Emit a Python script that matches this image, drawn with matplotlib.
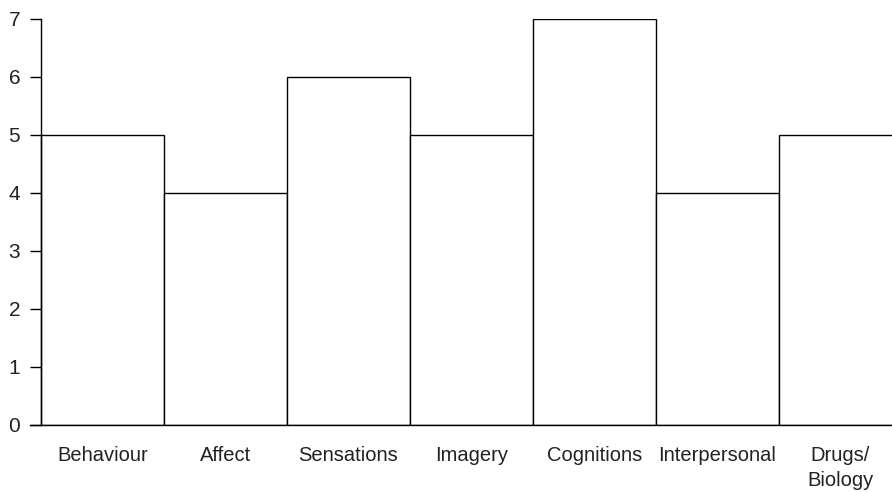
import matplotlib.pyplot as plt
import numpy as np

categories = ["Behaviour", "Affect", "Sensations", "Imagery", "Cognitions",
              "Interpersonal", "Drugs/\nBiology"]
scores = [5, 4, 6, 5, 7, 4, 5]

plt.rcParams['font.family'] = ['Liberation Sans', 'DejaVu Sans']

fig = plt.figure(figsize=(8.92, 4.92), dpi=100)
ax = fig.add_axes([30 / 892, 67 / 492, 862 / 892, 406 / 492])

x = np.arange(len(categories))
ax.bar(x, scores, width=1.0, color="white", edgecolor="black", linewidth=1.0)

ax.set_xlim(-0.5 - 11 / 123, 6.5 - 10 / 123)
ax.set_ylim(0, 7)
ax.set_yticks(range(0, 8))
ax.set_xticks(x)
ax.set_xticklabels(categories, fontsize=14.5, color="#222222", linespacing=1.4, va="top")

for s in ["top", "right"]:
    ax.spines[s].set_visible(False)
ax.spines["left"].set_position(("data", -0.5))
ax.spines["left"].set_linewidth(1.0)
ax.spines["bottom"].set_linewidth(1.0)

ax.tick_params(axis="x", length=0, pad=15)
ax.tick_params(axis="y", length=8, width=1.0, pad=7, labelsize=15, labelcolor="#222222")

fig.savefig("out.png", dpi=100)
